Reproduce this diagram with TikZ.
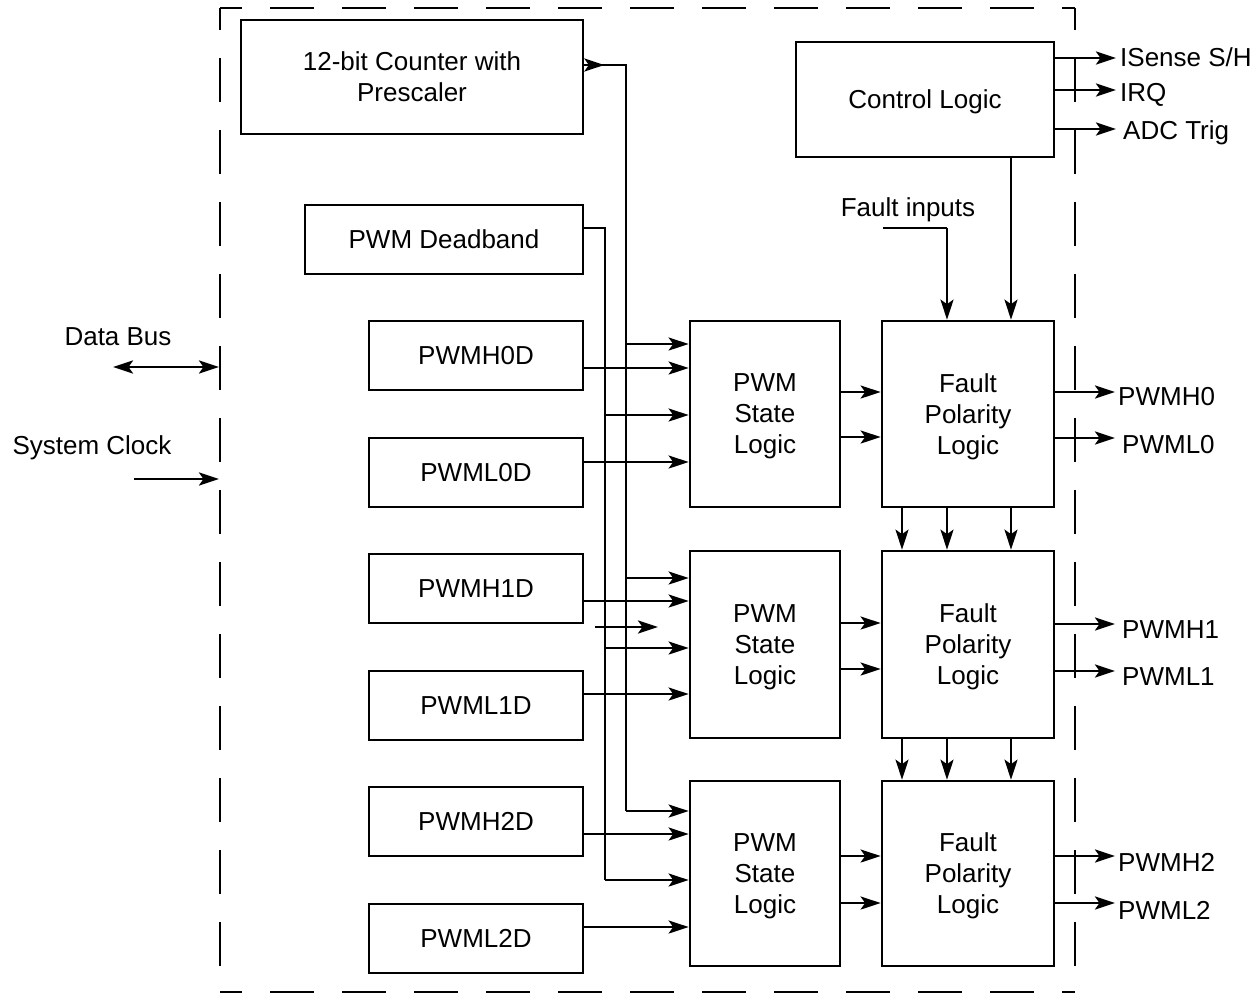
\documentclass[tikz,border=0pt]{standalone}
\usepackage{fontspec}
\setmainfont{Liberation Sans}
\usetikzlibrary{arrows.meta,calc}
\newcommand\nodep[1]{\raisebox{0pt}[\height][0pt]{#1}}
\begin{document}
\begin{tikzpicture}[x=1pt,y=-1pt,
  every node/.style={font=\fontsize{26}{31}\selectfont},
  box/.style={draw,line width=2.7pt,inner sep=0pt,align=center},
  wire/.style={line width=2.7pt},
  tip/.tip={Stealth[length=20pt,width=13pt,inset=4.5pt]},
  arr/.style={line width=2.7pt,-tip},
  darr/.style={line width=2.7pt,tip-tip},
  border/.style={line width=2.7pt,dash pattern=on 44pt off 28pt,dash phase=22pt},
  lbl/.style={anchor=west,inner sep=0pt}]
\useasboundingbox (0,0) rectangle (1251,994);
% border
\coordinate (tl) at (220,8);
\coordinate (tr) at (1075,8);
\coordinate (bl) at (220,992);
\coordinate (br) at (1075,992);
\draw[border] (tl) -- (tr);
\draw[border] (tl) -- (bl);
\draw[border] (bl) -- (br);
\draw[border] (tr) -- (br);
% boxes
\node[box,minimum width=342pt,minimum height=114pt] (cnt) at (412,77) {12-bit Counter with\\Prescaler};
\node[box,minimum width=258pt,minimum height=115pt] (ctl) at (925,99.5) {\nodep{Control Logic}};
\node[box,minimum width=278pt,minimum height=69pt] (dbd) at (444,239.5) {PWM Deadband};
\node[box,minimum width=214pt,minimum height=69pt] (h0) at (476,355.5) {PWMH0D};
\node[box,minimum width=214pt,minimum height=69pt] (l0) at (476,472.5) {PWML0D};
\node[box,minimum width=214pt,minimum height=69pt] (h1) at (476,588.5) {PWMH1D};
\node[box,minimum width=214pt,minimum height=69pt] (l1) at (476,705.5) {PWML1D};
\node[box,minimum width=214pt,minimum height=69pt] (h2) at (476,821.5) {PWMH2D};
\node[box,minimum width=214pt,minimum height=69pt] (l2) at (476,938.5) {PWML2D};
\node[box,minimum width=150pt,minimum height=186pt] (p1) at (765,414) {PWM\\State\\\nodep{Logic}};
\node[box,minimum width=150pt,minimum height=187pt] (p2) at (765,644.5) {PWM\\State\\\nodep{Logic}};
\node[box,minimum width=150pt,minimum height=185pt] (p3) at (765,873.5) {PWM\\State\\\nodep{Logic}};
\node[box,minimum width=172pt,minimum height=186pt] (f1) at (968,414) {Fault\\Polarity\\\nodep{Logic}};
\node[box,minimum width=172pt,minimum height=187pt] (f2) at (968,644.5) {Fault\\Polarity\\\nodep{Logic}};
\node[box,minimum width=172pt,minimum height=185pt] (f3) at (968,873.5) {Fault\\Polarity\\\nodep{Logic}};
% left labels
\node (dbus) at (118,337) {Data Bus};
\node (sclk) at (92,448) {System Clock};
\coordinate (dbl) at (113,367);
\coordinate (dbr) at (219,367);
\draw[darr] (dbl) -- (dbr);
\coordinate (scl) at (134,479);
\coordinate (scr) at (219,479);
\draw[arr] (scl) -- (scr);
% counter bus
\coordinate (ca) at (626,65);
\coordinate (cb1) at (626,344);
\coordinate (cb2) at (626,578);
\coordinate (cb3) at (626,811);
\draw[wire] (cnt.east |- ca) -- (ca) -- (cb3);
\draw[arr] (cnt.east |- ca) -- ++(20,0);
\draw[arr] (cb1) -- (p1.west |- cb1);
\draw[arr] (cb2) -- (p2.west |- cb2);
\draw[arr] (cb3) -- (p3.west |- cb3);
% deadband bus
\coordinate (da) at (605,228);
\coordinate (db1) at (605,415);
\coordinate (db2) at (605,648);
\coordinate (db3) at (605,880);
\draw[wire] (dbd.east |- da) -- (da) -- (db3);
\draw[arr] (db1) -- (p1.west |- db1);
\draw[arr] (db2) -- (p2.west |- db2);
\draw[arr] (db3) -- (p3.west |- db3);
% channel inputs
\coordinate (h0o) at (583,368);
\coordinate (l0o) at (583,462);
\coordinate (h1o) at (583,601);
\coordinate (l1o) at (583,694);
\coordinate (h2o) at (583,834);
\coordinate (l2o) at (583,927);
\draw[arr] (h0.east |- h0o) -- (p1.west |- h0o);
\draw[arr] (l0.east |- l0o) -- (p1.west |- l0o);
\draw[arr] (h1.east |- h1o) -- (p2.west |- h1o);
\draw[arr] (l1.east |- l1o) -- (p2.west |- l1o);
\draw[arr] (h2.east |- h2o) -- (p3.west |- h2o);
\draw[arr] (l2.east |- l2o) -- (p3.west |- l2o);
% stray arrow
\coordinate (sa) at (595,627);
\coordinate (sb) at (658,627);
\draw[arr] (sa) -- (sb);
% PSL -> FPL
\foreach \p/\f/\ya/\yb in {p1/f1/392/437, p2/f2/623/669, p3/f3/856/903}{
  \draw[arr] (\p.east |- 0,\ya) -- (\f.west |- 0,\ya);
  \draw[arr] (\p.east |- 0,\yb) -- (\f.west |- 0,\yb);
}
% FPL chain
\foreach \x in {902,947,1011}{
  \draw[arr] (f1.south -| \x,0) -- (f2.north -| \x,0);
  \draw[arr] (f2.south -| \x,0) -- (f3.north -| \x,0);
}
% control -> FPL1
\draw[arr] (ctl.south -| 1011,0) -- (f1.north -| 1011,0);
% fault inputs
\node (fin) at (908,210) {Fault inputs};
\coordinate (fa) at (883,228);
\coordinate (fb) at (947,228);
\draw[wire] (fa) -- (fb);
\draw[arr] (fb) -- (f1.north -| fb);
% control outputs
\coordinate (o1) at (1116,58);
\coordinate (o2) at (1116,90);
\coordinate (o3) at (1116,129);
\draw[arr] (ctl.east |- o1) -- (o1);
\draw[arr] (ctl.east |- o2) -- (o2);
\draw[arr] (ctl.east |- o3) -- (o3);
\node[lbl] (t1) at (1120,57) {ISense S/H};
\node[lbl] (t2) at (1120,95) {IRQ};
\node[lbl] (t3) at (1123,133) {ADC Trig};
% PWM outputs
\coordinate (q1) at (1115,392);
\coordinate (q2) at (1115,438);
\coordinate (q3) at (1115,624);
\coordinate (q4) at (1115,671);
\coordinate (q5) at (1115,856);
\coordinate (q6) at (1115,903);
\draw[arr] (f1.east |- q1) -- (q1);
\draw[arr] (f1.east |- q2) -- (q2);
\draw[arr] (f2.east |- q3) -- (q3);
\draw[arr] (f2.east |- q4) -- (q4);
\draw[arr] (f3.east |- q5) -- (q5);
\draw[arr] (f3.east |- q6) -- (q6);
\node[lbl] (u1) at (1118,397) {PWMH0};
\node[lbl] (u2) at (1122,445) {PWML0};
\node[lbl] (u3) at (1122,630) {PWMH1};
\node[lbl] (u4) at (1122,677) {PWML1};
\node[lbl] (u5) at (1118,862) {PWMH2};
\node[lbl] (u6) at (1118,910) {PWML2};
\end{tikzpicture}
\end{document}
